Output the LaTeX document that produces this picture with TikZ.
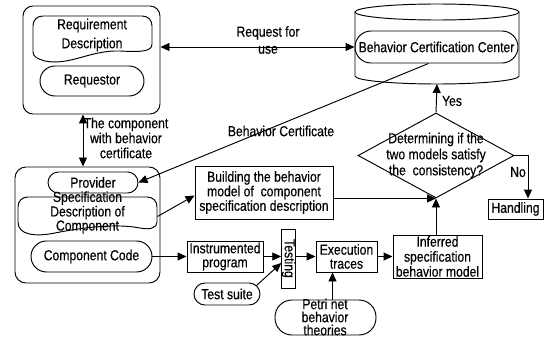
\documentclass[tikz,border=0pt]{standalone}
\usepackage{fontspec}
\setmainfont[FakeStretch=0.84,FakeBold=0.4]{Liberation Sans}
\usetikzlibrary{shapes.geometric,arrows.meta,calc}

\begin{document}
\begin{tikzpicture}[x=1pt,y=-1pt,
  line width=0.95pt,
  every node/.style={font=\fontsize{14.5}{15}\selectfont, inner sep=0pt, align=center},
  box/.style={draw, rectangle},
  pill/.style={draw, rounded corners=#1},
  arr/.style={-{Triangle[length=9pt,width=8pt]}},
  arrboth/.style={{Triangle[length=9pt,width=8pt]}-{Triangle[length=9pt,width=8pt]}}]
\useasboundingbox (0,0) rectangle (547,337);

% ---- requester side
\node[pill=10, minimum width=137, minimum height=108] (userbox) at (91.5,60) {};
\draw (33,52) -- (33,26) .. controls (33,20) and (37,16) .. (43,16) -- (142,16)
  .. controls (148,16) and (152,20) .. (152,26) -- (152,44)
  .. controls (152,52) and (140,52) .. (120,51)
  .. controls (90,50) and (70,66) .. (45,61)
  .. controls (38,59) and (33,57) .. (33,52) -- cycle;
\node[font=\fontsize{14.5}{19}\selectfont, minimum width=120] (reqd) at (92,35) {Requirement\\Description};
\node[pill=15, minimum width=104, minimum height=30] (req) at (92,81) {Requestor};

% ---- certification center (cylinder)
\draw (437,12) ellipse [x radius=82pt, y radius=8pt];
\draw (355,12) -- (355,76) arc [start angle=180, end angle=360, x radius=82pt, y radius=8pt] -- (519,12);
\coordinate (bccbot) at (437,84);
\node[pill=16, minimum width=163, minimum height=32] (bcc) at (436.5,47) {Behavior Certification Center};

\node[font=\fontsize{14.5}{17}\selectfont] (reqlbl) at (268,40) {Request for\\use};
\node (certlbl) at (281,131) {Behavior Certificate};
\node (complbl) at (126,138) {The component\\with behavior\\certificate};

% ---- provider side
\node[pill=11, minimum width=145, minimum height=116] (provbox) at (87.5,225) {};
\node[pill=10.5, minimum width=90, minimum height=21] (prov) at (93,182.5) {Provider};
\draw (18,222) -- (18,207) .. controls (18,201) and (22,197) .. (28,197) -- (147,197)
  .. controls (153,197) and (157,201) .. (157,207) -- (157,222)
  .. controls (157,228) and (150,230) .. (140,228)
  .. controls (115,223) and (80,228) .. (55,233)
  .. controls (35,237) and (18,235) .. (18,222) -- cycle;
\node[font=\fontsize{14.5}{13}\selectfont, minimum width=139, minimum height=33] (spec) at (87.5,212.5) {Specification\\Description of\\Component};
\node[pill=15.5, minimum width=121, minimum height=31] (code) at (91.5,256.5) {Component Code};

% ---- model building and checking
\node[box, minimum width=138, minimum height=53, font=\fontsize{14.5}{13.5}\selectfont] (build) at (264,192.5) {Building the behavior\\model of\ \ component\\specification description};
\node[draw, diamond, minimum width=156, minimum height=85] (dia) at (436,155.5) {};
\node[font=\fontsize{14.5}{16}\selectfont] (diatxt) at (436,155.5) {Determining if the\\two models satisfy\\the\ \ consistency?};
\node (yeslbl) at (452,101) {Yes};
\node (nolbl) at (518,172) {No};
\node[box, minimum width=55, minimum height=20] (hand) at (515.5,209) {Handling};

% ---- testing chain
\node[box, minimum width=76, minimum height=31, font=\fontsize{14.5}{14}\selectfont] (instr) at (225,256.5) {Instrumented\\program};
\node[box, minimum width=13, minimum height=59] (test) at (288.5,258.5) {\rotatebox{-90}{Testing}};
\node[pill=11, minimum width=66, minimum height=22] (suite) at (227,294) {Test suite};
\node[box, minimum width=61, minimum height=31, font=\fontsize{14.5}{14}\selectfont] (exec) at (346.5,256.5) {Execution\\traces};
\node[box, minimum width=89, minimum height=43] (inf) at (437.5,256.5) {Inferred\\specification\\behavior model};
\node[pill=17, minimum width=101, minimum height=35] (petri) at (325.5,317.5) {};
\node[font=\fontsize{14.5}{13}\selectfont] (pettxt) at (325,317) {Petri net\\behavior\\theories};

% ---- connectors
\draw[arrboth] (userbox.east |- bcc.west) -- (bcc.west);
\draw[arrboth] ([xshift=-8.5pt]userbox.south) -- ([xshift=-8.5pt]userbox.south |- provbox.north);
\draw[arr] ([xshift=-8pt]bcc.south) -- (prov.east);
\draw[arr] ([yshift=-4pt]spec.east) -- ([yshift=-3pt]build.west);
\draw[arr] (build.east |- dia.south) -- (dia.south);
\draw[arr] (dia.north) -- (bccbot);
\draw[arr] (dia.east) -| ([xshift=12.5pt]hand.north);
\draw[arr] (code.east) -- (instr.west);
\draw[arr] (instr.east) -- (test.west |- instr.east);
\draw[arr] ([xshift=-4pt,yshift=-3pt]suite.north east) -- ([yshift=-4.5pt]test.west);
\draw[arr] (test.east |- exec.west) -- (exec.west);
\draw[arr] (exec.east) -- (inf.west);
\draw[arr] (inf.north -| dia.south) -- (dia.south);
\draw[arr] ([xshift=7pt]petri.north) -- ([xshift=7pt]petri.north |- exec.south);
\end{tikzpicture}
\end{document}
